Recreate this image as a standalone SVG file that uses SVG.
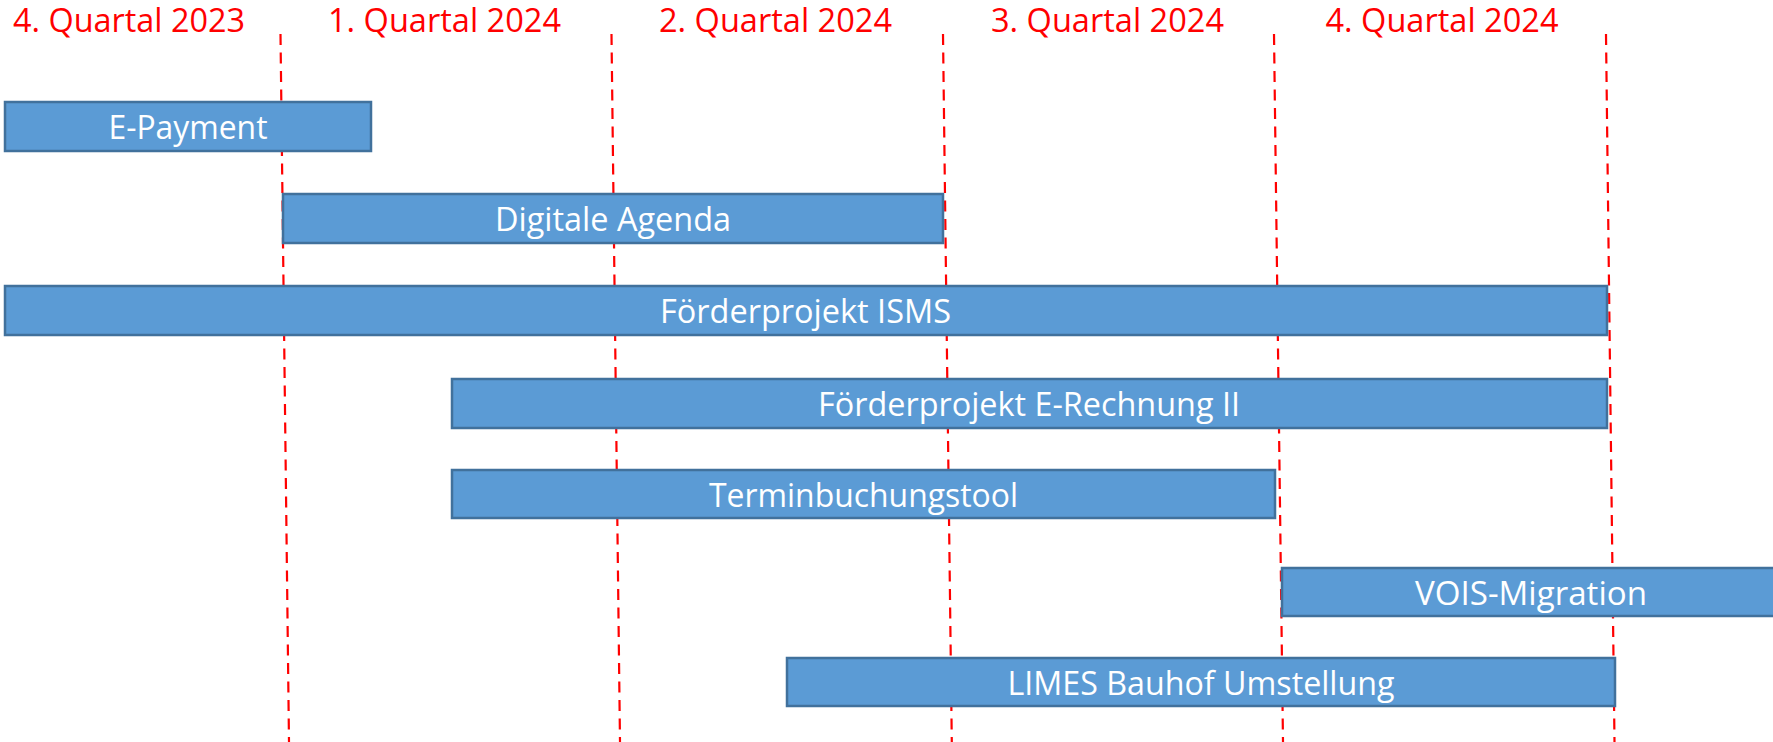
<svg xmlns="http://www.w3.org/2000/svg" width="1773" height="742" viewBox="0 0 1773 742">
<style>
.hdr{font-family:"Open Sans","Noto Sans","Liberation Sans",sans-serif;font-size:32px;fill:#FF0000;text-anchor:middle}
.bar{fill:#5B9BD5;stroke:#41719C;stroke-width:2.5}
.lbl{font-family:"Open Sans","Noto Sans","Liberation Sans",sans-serif;font-size:32px;fill:#FFFFFF;text-anchor:middle}
.grid{stroke:#FF0000;stroke-width:2.2;stroke-dasharray:11 7.5;fill:none}
</style>
<rect width="1773" height="742" fill="#FFFFFF"/>
<g id="headers">
<text class="hdr" x="129" y="32" textLength="232" lengthAdjust="spacingAndGlyphs">4. Quartal 2023</text>
<text class="hdr" x="444.5" y="32" textLength="233" lengthAdjust="spacingAndGlyphs">1. Quartal 2024</text>
<text class="hdr" x="775.5" y="32" textLength="233" lengthAdjust="spacingAndGlyphs">2. Quartal 2024</text>
<text class="hdr" x="1107.5" y="32" textLength="233" lengthAdjust="spacingAndGlyphs">3. Quartal 2024</text>
<text class="hdr" x="1442" y="32" textLength="233" lengthAdjust="spacingAndGlyphs">4. Quartal 2024</text>
</g>
<g id="connectors">
<line class="grid" x1="280.5" y1="34" x2="289" y2="742"/>
<line class="grid" x1="611.5" y1="34" x2="620" y2="742"/>
<line class="grid" x1="943" y1="34" x2="951.8" y2="742"/>
<line class="grid" x1="1274" y1="34" x2="1283" y2="742"/>
<line class="grid" x1="1606" y1="34" x2="1614.5" y2="742"/>
</g>
<g id="e-payment">
<rect class="bar" x="5" y="102" width="366" height="49"/>
<text class="lbl" x="188" y="139" textLength="159" lengthAdjust="spacingAndGlyphs">E-Payment</text>
</g>
<g id="digitale-agenda">
<rect class="bar" x="283" y="194" width="660" height="49"/>
<text class="lbl" x="613" y="231" textLength="236" lengthAdjust="spacingAndGlyphs">Digitale Agenda</text>
</g>
<g id="isms">
<rect class="bar" x="5" y="286" width="1602" height="49"/>
<text class="lbl" x="805.5" y="323" textLength="291" lengthAdjust="spacingAndGlyphs">Förderprojekt ISMS</text>
</g>
<g id="e-rechnung">
<rect class="bar" x="452" y="379" width="1155" height="49"/>
<text class="lbl" x="1029" y="416" textLength="422" lengthAdjust="spacingAndGlyphs">Förderprojekt E-Rechnung II</text>
</g>
<g id="terminbuchung">
<rect class="bar" x="452" y="470" width="823" height="48"/>
<text class="lbl" x="863.5" y="507" textLength="309" lengthAdjust="spacingAndGlyphs">Terminbuchungstool</text>
</g>
<g id="vois">
<rect class="bar" x="1282" y="568" width="500" height="48"/>
<text class="lbl" x="1531" y="605" textLength="232" lengthAdjust="spacingAndGlyphs">VOIS-Migration</text>
</g>
<g id="limes">
<rect class="bar" x="787" y="658" width="828" height="48"/>
<text class="lbl" x="1201" y="695" textLength="387" lengthAdjust="spacingAndGlyphs">LIMES Bauhof Umstellung</text>
</g>
</svg>
